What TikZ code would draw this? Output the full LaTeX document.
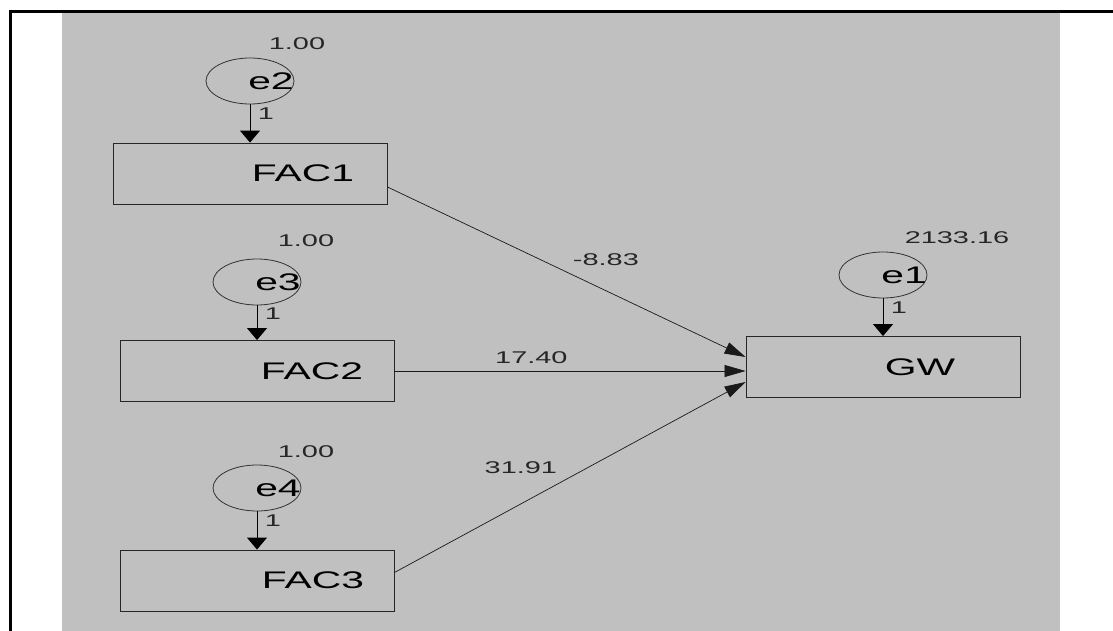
\documentclass[tikz,border=0pt]{standalone}
\usepackage{fontspec}
\setmainfont{Liberation Sans}
\usetikzlibrary{positioning, shapes.geometric, arrows.meta}
\definecolor{amosgray}{HTML}{C0C0C0}
\newcommand{\wtext}[1]{\scalebox{1.7}[1]{#1}}

\begin{document}
\begin{tikzpicture}[x=1pt, y=-1pt,
    every label/.style={font=\fontsize{24}{28}\selectfont, inner sep=0pt},
    observed/.style={draw=black!85, line width=0.9pt, minimum width=274pt, minimum height=61pt, inner sep=0pt},
    unique/.style={ellipse, draw=black!80, line width=0.8pt, minimum width=88pt, minimum height=46pt, inner sep=0pt},
    estimate/.style={font=\fontsize{17}{20}\selectfont, text=black!85},
    errarrow/.style={-{Triangle[length=12pt, width=20pt]}, line width=1pt},
    patharrow/.style={-{Triangle[length=21pt, width=12pt]}, line width=0.7pt, black!90}]

    % frame and canvas
    \useasboundingbox (0,0) rectangle (1113,631);
    \fill[amosgray] (62,13) rectangle (1060,631);
    \draw[line width=3pt] (1113,12) -- (10,12) -- (10,631);

    % observed variables
    \node[observed, label={[xshift=53pt]center:\wtext{FAC1}}] (fac1) at (250,173.5) {};
    \node[observed, label={[xshift=55pt]center:\wtext{FAC2}}] (fac2) at (257,371) {};
    \node[observed, label={[xshift=56pt]center:\wtext{FAC3}}] (fac3) at (257,580.5) {};
    \node[observed, label={[xshift=37pt]center:\wtext{GW}}] (gw) at (883,367) {};

    % error terms
    \node[unique, label={[xshift=21pt]center:\wtext{e2}}] (e2) at (250,81) {};
    \node[unique, label={[xshift=21pt]center:\wtext{e3}}] (e3) at (257,282) {};
    \node[unique, label={[xshift=21pt]center:\wtext{e4}}] (e4) at (257,488) {};
    \node[unique, label={[xshift=21pt]center:\wtext{e1}}] (e1) at (883,275) {};

    % variances
    \node[estimate] (var2) at (297,44) {\wtext{1.00}};
    \node[estimate] (var3) at (306,241) {\wtext{1.00}};
    \node[estimate] (var4) at (306,452) {\wtext{1.00}};
    \node[estimate] (var1) at (957,238) {\wtext{2133.16}};

    \draw[errarrow] (e2) -- node[estimate, pos=0.25, right=4pt]{\wtext{1}} (fac1);
    \draw[errarrow] (e3) -- node[estimate, pos=0.25, right=4pt]{\wtext{1}} (fac2);
    \draw[errarrow] (e4) -- node[estimate, pos=0.25, right=4pt]{\wtext{1}} (fac3);
    \draw[errarrow] (e1) -- node[estimate, pos=0.25, right=4pt]{\wtext{1}} (gw);

    % regression weights
    \draw[patharrow] ([yshift=-13.5pt]fac1.east) -- node[estimate, pos=0.61, above=21pt]{\wtext{-8.83}} ([yshift=10pt]gw.west);
    \draw[patharrow] (fac2.east) -- node[estimate, pos=0.39, above=4pt]{\wtext{17.40}} (fac2.east -| gw.west);
    \draw[patharrow] ([yshift=8pt]fac3.east) -- node[estimate, pos=0.36, above=27pt]{\wtext{31.91}} ([yshift=-15pt]gw.west);
\end{tikzpicture}
\end{document}
